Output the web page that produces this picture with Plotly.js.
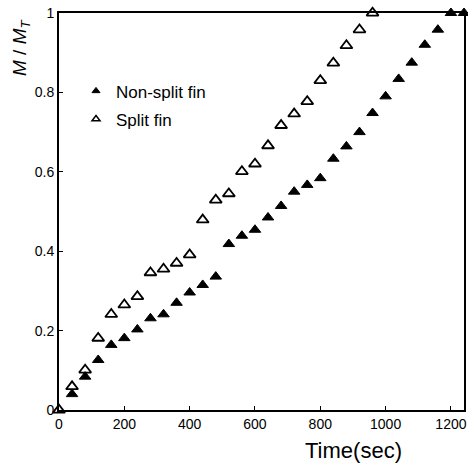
<!DOCTYPE html>
<html>
<head>
<meta charset="utf-8">
<script src="https://cdn.plot.ly/plotly-3.0.1.min.js"></script>
<style>html,body{margin:0;padding:0;background:#fff;}#chart{width:468px;height:465px;}</style>
</head>
<body>
<div id="chart"></div>
<script>
// Data
var nonSplitTime = [40, 80, 120, 160, 200, 240, 280, 320, 360, 400, 440, 480, 520, 560, 600, 640, 680, 720, 760, 800, 840, 880, 920, 960, 1000, 1040, 1080, 1120, 1160, 1200, 1240];
var nonSplitRatio = [0.04, 0.084, 0.126, 0.164, 0.181, 0.203, 0.231, 0.241, 0.27, 0.296, 0.315, 0.336, 0.418, 0.439, 0.454, 0.485, 0.514, 0.55, 0.567, 0.584, 0.633, 0.664, 0.70, 0.748, 0.79, 0.834, 0.875, 0.92, 0.958, 1.0, 1.0];
var splitTime = [0, 40, 80, 120, 160, 200, 240, 280, 320, 360, 400, 440, 480, 520, 560, 600, 640, 680, 720, 760, 800, 840, 880, 920, 960];
var splitRatio = [0, 0.059, 0.101, 0.181, 0.241, 0.265, 0.286, 0.346, 0.355, 0.37, 0.391, 0.479, 0.529, 0.545, 0.601, 0.62, 0.666, 0.717, 0.746, 0.777, 0.83, 0.874, 0.918, 0.958, 1.0];
var xTicks = [0, 200, 400, 600, 800, 1000, 1200];
var yTicks = [0, 0.2, 0.4, 0.6, 0.8, 1];
var seriesNames = ['Non-split fin', 'Split fin'];

var FONT = 'Liberation Sans, Arial, sans-serif';

var filledMarker = {symbol: 'triangle-up', size: 10, color: '#000', line: {color: '#000', width: 1}};
var openMarker = {symbol: 'triangle-up-open', size: 10.5, color: '#000', line: {color: '#000', width: 1.8}};

var traces = [
  {
    x: nonSplitTime, y: nonSplitRatio, name: seriesNames[0], showlegend: false,
    type: 'scatter', mode: 'markers', cliponaxis: false, marker: filledMarker
  },
  {
    x: splitTime, y: splitRatio, name: seriesNames[1], showlegend: false,
    type: 'scatter', mode: 'markers', cliponaxis: false, marker: openMarker
  },
  // legend-only entries (smaller legend symbols, as in the reference)
  {
    x: [null], y: [null], name: seriesNames[0], legendgroup: 'a',
    type: 'scatter', mode: 'markers',
    marker: {symbol: 'triangle-up', size: 7, color: '#000', line: {color: '#000', width: 1}}
  },
  {
    x: [null], y: [null], name: seriesNames[1], legendgroup: 'b',
    type: 'scatter', mode: 'markers',
    marker: {symbol: 'triangle-up-open', size: 7, color: '#000', line: {color: '#000', width: 1.5}}
  }
];

var layout = {
  width: 468, height: 465,
  margin: {l: 59, r: 4, t: 13, b: 55},
  paper_bgcolor: '#fff', plot_bgcolor: '#fff',
  font: {family: FONT, color: '#000', size: 14},
  showlegend: true,
  legend: {
    x: 0.042, y: 0.848, xanchor: 'left', yanchor: 'top',
    bgcolor: 'rgba(0,0,0,0)', font: {family: FONT, size: 17, color: '#000'},
    itemsizing: 'trace', tracegroupgap: 3
  },
  xaxis: {
    range: [0, 1240], tickvals: xTicks, ticktext: xTicks.map(String),
    ticks: 'inside', ticklen: 4, tickwidth: 1, tickcolor: '#000',
    showline: true, linecolor: '#000', linewidth: 2, mirror: true,
    showgrid: false, zeroline: false,
    tickfont: {family: FONT, size: 14, color: '#000'}
  },
  yaxis: {
    range: [0, 1], tickvals: yTicks, ticktext: yTicks.map(String),
    ticks: 'inside', ticklen: 4, tickwidth: 1, tickcolor: '#000',
    showline: true, linecolor: '#000', linewidth: 2, mirror: true,
    showgrid: false, zeroline: false,
    tickfont: {family: FONT, size: 14, color: '#000'}
  },
  annotations: [
    {
      text: 'Time(sec)', xref: 'paper', yref: 'paper',
      x: (353 - 59) / 405, y: 0, yshift: -40, xanchor: 'center', yanchor: 'middle',
      showarrow: false, font: {family: FONT, size: 22, color: '#000'}
    },
    {
      text: '<i>M</i> / <i>M</i><sub><i>T</i></sub>', xref: 'paper', yref: 'paper',
      x: 0, xshift: -38, y: 1 - (48 - 13) / 397, xanchor: 'center', yanchor: 'middle',
      textangle: -90, showarrow: false, font: {family: FONT, size: 19, color: '#000'}
    }
  ]
};

Plotly.newPlot('chart', traces, layout, {displayModeBar: false, staticPlot: true});
</script>
</body>
</html>
